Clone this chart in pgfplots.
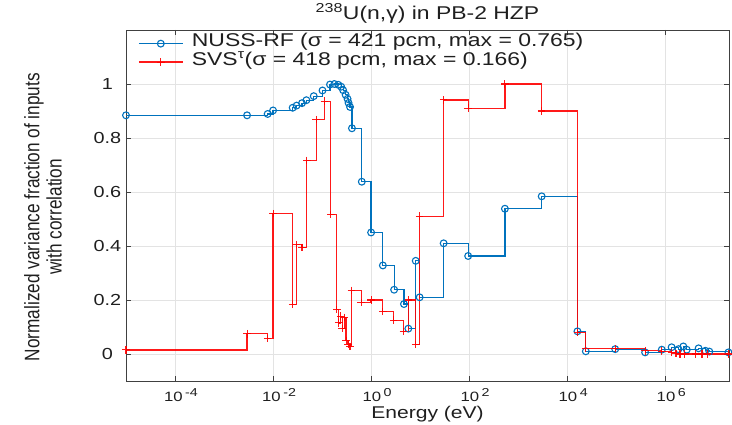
\documentclass[border=0pt]{standalone}
\usepackage{fontspec}
\setmainfont{Liberation Sans}[FakeStretch=1.24]
\newfontfamily\ylabfont{Liberation Sans}[FakeStretch=0.82]
\usepackage{pgfplots}
\pgfplotsset{compat=1.18}
\definecolor{mblue}{rgb}{0,0.447,0.741}
\definecolor{axgray}{gray}{0.25}
\definecolor{txt}{gray}{0.12}

\newcommand{\tenp}[1]{10\hspace{2.5pt}\raisebox{5pt}{\fontsize{11.5}{11.5}\selectfont #1}}

\begin{document}
\begin{tikzpicture}
\useasboundingbox (-126pt,-44pt) rectangle (606pt,381pt);
\begin{axis}[
  at={(0,0)}, anchor=south west,
  scale only axis, width=603pt, height=351pt,
  xmode=log, xmin=1e-5, xmax=2e7, ymin=-0.1, ymax=1.2,
  xtick={1e-4,1e-2,1,1e2,1e4,1e6},
  xticklabels={\tenp{-4},\tenp{-2},\tenp{0},\tenp{2},\tenp{4},\tenp{6}},
  xminorticks=false,
  ytick={0,0.2,0.4,0.6,0.8,1},
  yticklabels={0,0.2,0.4,0.6,0.8,1},
  grid=major,
  major grid style={line width=0.8pt, black!11},
  axis line style={axgray, line width=0.8pt},
  tick style={axgray, line width=0.8pt},
  major tick length=5pt,
  tick align=inside,
  xticklabel style={font=\fontsize{13.5}{14}\selectfont, anchor=base, yshift=-21pt, xshift=6pt, text=txt},
  yticklabel style={font=\fontsize{16}{17}\selectfont, anchor=east, text width=28pt, align=center, xshift=-1pt, text=txt},
  title={\textsuperscript{238}U(n,γ) in PB-2 HZP},
  title style={font=\fontsize{18.5}{20}\selectfont, at={(rel axis cs:0.5,1.0142)}, anchor=base, text=txt},
  xlabel={Energy (eV)},
  xlabel style={font=\fontsize{17}{18}\selectfont, at={(rel axis cs:0.5,-0.108)}, anchor=base, text=txt},
  ylabel={Normalized variance fraction of inputs\\with correlation},
  ylabel style={font=\ylabfont\fontsize{21}{22.3}\selectfont, align=center, at={(rel axis cs:-0.1376,0.467)}, anchor=center, text=txt},
  legend style={at={(rel axis cs:0,1)}, anchor=north west, xshift=12pt, yshift=-3pt,
    draw=none, fill=none, font=\fontsize{18.5}{20}\selectfont, text=txt,
    inner xsep=0pt, inner ysep=0pt, row sep=3.5pt,
    nodes={inner ysep=0pt, inner xsep=0pt},
    /tikz/every odd column/.append style={column sep=8.5pt}},
  legend cell align=left,
  legend image code/.code={\draw[mark repeat=2,mark phase=2] plot coordinates {(0pt,-3pt) (22pt,-3pt) (44pt,-3pt)};},
]
\addplot[const plot mark left, mblue, line width=1.2pt, mark=o, mark size=3.4pt, mark options={line width=1.1pt, solid}] coordinates {
(1e-5,0.884) (2.95e-3,0.884) (7.76e-3,0.889) (1.0e-2,0.902) (2.51e-2,0.912) (3.02e-2,0.920)
(3.89e-2,0.929) (4.79e-2,0.940) (6.76e-2,0.955) (0.102,0.976) (0.145,0.998) (0.178,1.0)
(0.214,0.997) (0.245,0.99) (0.269,0.977) (0.302,0.960) (0.331,0.945) (0.347,0.930)
(0.372,0.915) (0.407,0.836) (0.646,0.638) (1.0,0.450) (1.74,0.328) (2.95,0.238)
(4.68,0.185) (5.75,0.094) (8.13,0.345) (9.77,0.210) (30.2,0.410) (95.5,0.363)
(537,0.538) (3020,0.584) (16200,0.084) (24000,0.010) (95500,0.018) (389000,0.006)
(851000,0.016) (1.35e6,0.025) (1.86e6,0.018) (2.34e6,0.028) (2.75e6,0.016) (4.79e6,0.021)
(6.61e6,0.012) (7.94e6,0.009) (1.95e7,0.006)
};
\addlegendentry{NUSS-RF (σ = 421 pcm, max = 0.765)}
\addplot[const plot mark left, red, opacity=0.9, line width=1.2pt, mark=+, mark size=3.8pt, mark options={line width=1.1pt, solid}] coordinates {
(1e-5,0.015) (2.95e-3,0.075) (7.76e-3,0.058) (1e-2,0.52) (2.51e-2,0.183) (3.02e-2,0.405)
(3.89e-2,0.395) (4.90e-2,0.717) (7.59e-2,0.868) (0.112,0.936) (0.151,0.517) (0.200,0.165)
(0.219,0.115) (0.240,0.140) (0.257,0.095) (0.282,0.135) (0.309,0.050) (0.339,0.035)
(0.372,0.028) (0.398,0.235) (0.631,0.19) (1.0,0.20) (1.74,0.158) (2.88,0.125)
(4.57,0.083) (5.75,0.200) (8.13,0.035) (9.77,0.51) (30.2,0.941) (95.5,0.91)
(537,1.0) (3020,0.90) (16200,0.080) (24000,0.021) (95500,0.020) (389000,0.012)
(851000,0.010) (1.35e6,0.005) (1.66e6,0.002) (2.0e6,0.0) (2.51e6,0.0) (4.17e6,0.0)
(5.62e6,0.0) (7.24e6,0.0) (1.95e7,0.0)
};
\addlegendentry{SVS\textsuperscript{τ}(σ = 418 pcm, max = 0.166)}
\end{axis}
\end{tikzpicture}
\end{document}
